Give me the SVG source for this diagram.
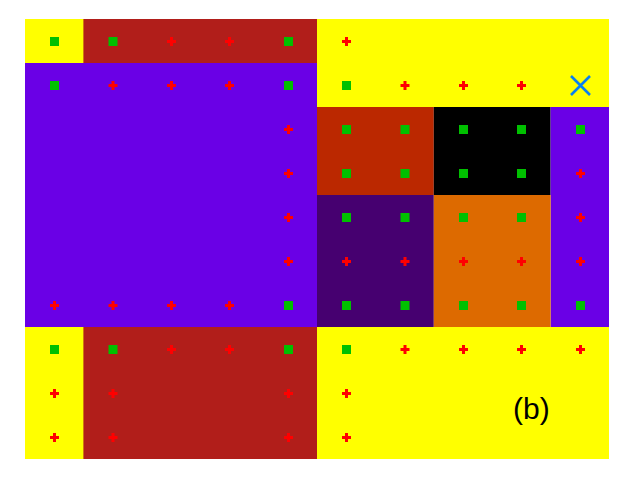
<svg xmlns="http://www.w3.org/2000/svg" xmlns:xlink="http://www.w3.org/1999/xlink" width="640" height="480" viewBox="0 0 640 480">
<defs>
<style>
.y{fill:#ffff00}.dr{fill:#b11e1a}.pu{fill:#6a00e6}.or{fill:#bb2800}.bk{fill:#000000}.dp{fill:#460070}.og{fill:#dd6a00}
.g{fill:#00c000}.p{fill:#ff0000}
.lbl{font-family:"Liberation Sans",Arial,sans-serif;font-size:30px;fill:#000}
</style>
<rect id="sq" x="-4.5" y="-4.5" width="9" height="9" class="g"/>
<path id="pl" d="M-1.5,-4.5h3v3h3v3h-3v3h-3v-3h-3v-3h3z" class="p"/>
</defs>
<rect width="640" height="480" fill="#ffffff"/>
<g id="regions">
<rect id="r-yellow-top" x="25" y="19" width="584" height="88" class="y"/>
<rect id="r-red-top" x="83.4" y="19" width="233.6" height="44" class="dr"/>
<rect id="r-purple-left" x="25" y="63" width="292" height="264" class="pu"/>
<rect id="r-orangered" x="317" y="107" width="116.8" height="88" class="or"/>
<rect id="r-black" x="433.8" y="107" width="116.8" height="88" class="bk"/>
<rect id="r-purple-right" x="550.6" y="107" width="58.4" height="220" class="pu"/>
<rect id="r-darkpurple" x="317" y="195" width="116.8" height="132" class="dp"/>
<rect id="r-orange" x="433.8" y="195" width="116.8" height="132" class="og"/>
<rect id="r-yellow-bottom" x="25" y="327" width="584" height="132" class="y"/>
<rect id="r-red-bottom" x="83.4" y="327" width="233.6" height="132" class="dr"/>
</g>
<g id="markers">
<!-- row 0 y=41 -->
<use href="#sq" x="54.5" y="41.5"/><use href="#sq" x="113" y="41.5"/><use href="#pl" x="171.5" y="41.5"/><use href="#pl" x="229.5" y="41.5"/><use href="#sq" x="288.5" y="41.5"/><use href="#pl" x="346.5" y="41.5"/>
<!-- row 1 -->
<use href="#sq" x="54.5" y="85.5"/><use href="#pl" x="113" y="85.5"/><use href="#pl" x="171.5" y="85.5"/><use href="#pl" x="229.5" y="85.5"/><use href="#sq" x="288.5" y="85.5"/><use href="#sq" x="346.5" y="85.5"/><use href="#pl" x="405" y="85.5"/><use href="#pl" x="463.5" y="85.5"/><use href="#pl" x="521.5" y="85.5"/>
<!-- row 2 -->
<use href="#pl" x="288.5" y="129.5"/><use href="#sq" x="346.5" y="129.5"/><use href="#sq" x="405" y="129.5"/><use href="#sq" x="463.5" y="129.5"/><use href="#sq" x="521.5" y="129.5"/><use href="#sq" x="580.5" y="129.5"/>
<!-- row 3 -->
<use href="#pl" x="288.5" y="173.5"/><use href="#sq" x="346.5" y="173.5"/><use href="#sq" x="405" y="173.5"/><use href="#sq" x="463.5" y="173.5"/><use href="#sq" x="521.5" y="173.5"/><use href="#pl" x="580.5" y="173.5"/>
<!-- row 4 -->
<use href="#pl" x="288.5" y="217.5"/><use href="#sq" x="346.5" y="217.5"/><use href="#sq" x="405" y="217.5"/><use href="#sq" x="463.5" y="217.5"/><use href="#sq" x="521.5" y="217.5"/><use href="#pl" x="580.5" y="217.5"/>
<!-- row 5 -->
<use href="#pl" x="288.5" y="261.5"/><use href="#pl" x="346.5" y="261.5"/><use href="#pl" x="405" y="261.5"/><use href="#pl" x="463.5" y="261.5"/><use href="#pl" x="521.5" y="261.5"/><use href="#pl" x="580.5" y="261.5"/>
<!-- row 6 -->
<use href="#pl" x="54.5" y="305.5"/><use href="#pl" x="113" y="305.5"/><use href="#pl" x="171.5" y="305.5"/><use href="#pl" x="229.5" y="305.5"/><use href="#sq" x="288.5" y="305.5"/><use href="#sq" x="346.5" y="305.5"/><use href="#sq" x="405" y="305.5"/><use href="#sq" x="463.5" y="305.5"/><use href="#sq" x="521.5" y="305.5"/><use href="#sq" x="580.5" y="305.5"/>
<!-- row 7 -->
<use href="#sq" x="54.5" y="349.5"/><use href="#sq" x="113" y="349.5"/><use href="#pl" x="171.5" y="349.5"/><use href="#pl" x="229.5" y="349.5"/><use href="#sq" x="288.5" y="349.5"/><use href="#sq" x="346.5" y="349.5"/><use href="#pl" x="405" y="349.5"/><use href="#pl" x="463.5" y="349.5"/><use href="#pl" x="521.5" y="349.5"/><use href="#pl" x="580.5" y="349.5"/>
<!-- row 8 -->
<use href="#pl" x="54.5" y="393.5"/><use href="#pl" x="113" y="393.5"/><use href="#pl" x="288.5" y="393.5"/><use href="#pl" x="346.5" y="393.5"/>
<!-- row 9 -->
<use href="#pl" x="54.5" y="437.5"/><use href="#pl" x="113" y="437.5"/><use href="#pl" x="288.5" y="437.5"/><use href="#pl" x="346.5" y="437.5"/>
</g>
<g id="cross" stroke="#0a80f0" stroke-width="2.6" fill="none">
<path d="M571,76L590,95M590,76L571,95"/>
</g>
<text class="lbl" x="513" y="419">(b)</text>
</svg>
